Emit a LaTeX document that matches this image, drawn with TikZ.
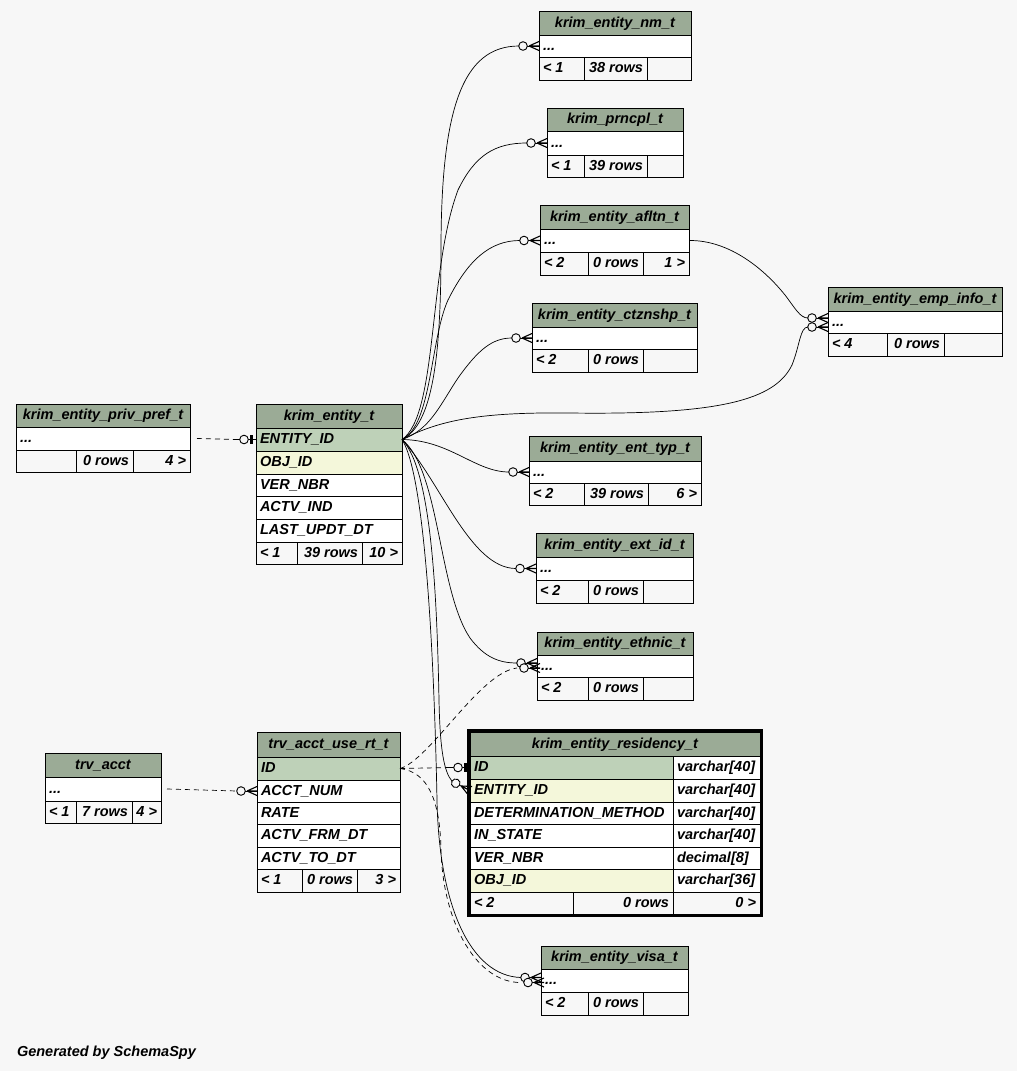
\documentclass[tikz,border=0pt]{standalone}
\usepackage{fontspec}
\setmainfont{Liberation Sans}
\definecolor{bg}{HTML}{F7F7F7}
\definecolor{hdr}{HTML}{9BAB96}
\definecolor{pk}{HTML}{BED1B8}
\definecolor{fk}{HTML}{F4F7DA}
\newcommand\tabfont{\fontsize{14.5}{17}\selectfont\bfseries\itshape}
\tikzset{
  cellbox/.style={draw=black, line width=1pt, inner sep=0pt, outer sep=0pt},
  txt/.style={inner sep=0pt, outer sep=0pt, text height=10.5pt, text depth=2.5pt, font=\tabfont},
  conn/.style={draw=black, line width=0.7pt},
  dashconn/.style={conn, dash pattern=on 5pt off 4pt},
  crowo/.pic={
    \draw[conn] (-20,0) -- (0,0);
    \draw[line width=1.1pt] (-10,0) -- (0,-4.5) (-10,0) -- (0,4.5) (-10,0) -- (0,0);
    \draw[line width=0.9pt, fill=bg] (-16,0) circle[radius=4.3pt];
  },
  teeo/.pic={
    \draw[conn] (-20,0) -- (0,0);
    \draw[line width=0.9pt, fill=bg] (-12,0) circle[radius=4.3pt];
    \draw[line width=2.5pt] (-4.5,-4.5) -- (-4.5,4.5);
  }
}
\newcommand\cellL[7]{\node[cellbox,fill=#6,minimum width=#4pt-#2pt,minimum height=#5pt-#3pt,anchor=north west] (#1) at (#2,#3) {};
  \node[txt,anchor=west] (#1t) at ([xshift=4pt]#1.west) {#7};}
\newcommand\cellR[7]{\node[cellbox,fill=#6,minimum width=#4pt-#2pt,minimum height=#5pt-#3pt,anchor=north west] (#1) at (#2,#3) {};
  \node[txt,anchor=east] (#1t) at ([xshift=-4pt]#1.east) {#7};}
\newcommand\cellC[7]{\node[cellbox,fill=#6,minimum width=#4pt-#2pt,minimum height=#5pt-#3pt,anchor=north west] (#1) at (#2,#3) {};
  \node[txt,anchor=center] (#1t) at (#1.center) {#7};}
\begin{document}
\begin{tikzpicture}[x=1pt,y=-1pt]
\useasboundingbox (0,0) rectangle (1017,1071);
\fill[bg] (0,0) rectangle (1017,1071);

% ---------- tables ----------
% krim_entity_nm_t
\cellC{nm-h}{539}{11}{691}{35}{hdr}{krim\_entity\_nm\_t}
\cellL{nm-r}{539}{35}{691}{57}{white}{...}
\cellL{nm-f1}{539}{57}{584}{80}{bg}{< 1}
\cellR{nm-f2}{584}{57}{647}{80}{bg}{38 rows}
\cellR{nm-f3}{647}{57}{691}{80}{bg}{}
% krim_prncpl_t
\cellC{pr-h}{547}{108}{683}{131}{hdr}{krim\_prncpl\_t}
\cellL{pr-r}{547}{131}{683}{155}{white}{...}
\cellL{pr-f1}{547}{155}{584}{177}{bg}{< 1}
\cellR{pr-f2}{584}{155}{647}{177}{bg}{39 rows}
\cellR{pr-f3}{647}{155}{683}{177}{bg}{}
% krim_entity_afltn_t
\cellC{af-h}{540}{205}{689}{229}{hdr}{krim\_entity\_afltn\_t}
\cellL{af-r}{540}{229}{689}{252}{white}{...}
\cellL{af-f1}{540}{252}{588}{275}{bg}{< 2}
\cellR{af-f2}{588}{252}{643}{275}{bg}{0 rows}
\cellR{af-f3}{643}{252}{689}{275}{bg}{1 >}
% krim_entity_ctznshp_t
\cellC{ct-h}{532}{303}{697}{327}{hdr}{krim\_entity\_ctznshp\_t}
\cellL{ct-r}{532}{327}{697}{349}{white}{...}
\cellL{ct-f1}{532}{349}{588}{372}{bg}{< 2}
\cellR{ct-f2}{588}{349}{643}{372}{bg}{0 rows}
\cellR{ct-f3}{643}{349}{697}{372}{bg}{}
% krim_entity_emp_info_t
\cellC{emp-h}{828}{287}{1002}{311}{hdr}{krim\_entity\_emp\_info\_t}
\cellL{emp-r}{828}{311}{1002}{333}{white}{...}
\cellL{emp-f1}{828}{333}{887}{356}{bg}{< 4}
\cellR{emp-f2}{887}{333}{944}{356}{bg}{0 rows}
\cellR{emp-f3}{944}{333}{1002}{356}{bg}{}
% krim_entity_priv_pref_t
\cellC{pp-h}{16}{404}{190}{427}{hdr}{krim\_entity\_priv\_pref\_t}
\cellL{pp-r}{16}{427}{190}{450}{white}{...}
\cellL{pp-f1}{16}{450}{76}{472}{bg}{}
\cellR{pp-f2}{76}{450}{133}{472}{bg}{0 rows}
\cellR{pp-f3}{133}{450}{190}{472}{bg}{4 >}
% krim_entity_t
\cellC{ent-h}{256}{404}{402}{428}{hdr}{krim\_entity\_t}
\cellL{ent-eid}{256}{428}{402}{451}{pk}{ENTITY\_ID}
\cellL{ent-obj}{256}{451}{402}{474}{fk}{OBJ\_ID}
\cellL{ent-ver}{256}{474}{402}{496}{white}{VER\_NBR}
\cellL{ent-act}{256}{496}{402}{519}{white}{ACTV\_IND}
\cellL{ent-lud}{256}{519}{402}{542}{white}{LAST\_UPDT\_DT}
\cellL{ent-f1}{256}{542}{297}{564}{bg}{< 1}
\cellR{ent-f2}{297}{542}{362}{564}{bg}{39 rows}
\cellR{ent-f3}{362}{542}{402}{564}{bg}{10 >}
% krim_entity_ent_typ_t
\cellC{et-h}{529}{436}{701}{461}{hdr}{krim\_entity\_ent\_typ\_t}
\cellL{et-r}{529}{461}{701}{483}{white}{...}
\cellL{et-f1}{529}{483}{584}{505}{bg}{< 2}
\cellR{et-f2}{584}{483}{648}{505}{bg}{39 rows}
\cellR{et-f3}{648}{483}{701}{505}{bg}{6 >}
% krim_entity_ext_id_t
\cellC{ex-h}{536}{533}{693}{557}{hdr}{krim\_entity\_ext\_id\_t}
\cellL{ex-r}{536}{557}{693}{580}{white}{...}
\cellL{ex-f1}{536}{580}{588}{603}{bg}{< 2}
\cellR{ex-f2}{588}{580}{643}{603}{bg}{0 rows}
\cellR{ex-f3}{643}{580}{693}{603}{bg}{}
% krim_entity_ethnic_t
\cellC{eth-h}{537}{632}{693}{655}{hdr}{krim\_entity\_ethnic\_t}
\cellL{eth-r}{537}{655}{693}{677}{white}{...}
\cellL{eth-f1}{537}{677}{588}{700}{bg}{< 2}
\cellR{eth-f2}{588}{677}{643}{700}{bg}{0 rows}
\cellR{eth-f3}{643}{677}{693}{700}{bg}{}
% krim_entity_residency_t
\cellC{res-h}{470}{732}{760}{756}{hdr}{krim\_entity\_residency\_t}
\cellL{res-id}{470}{756}{673}{779}{pk}{ID}
\cellL{res-idt}{673}{756}{760}{779}{white}{varchar[40]}
\cellL{res-eid}{470}{779}{673}{802}{fk}{ENTITY\_ID}
\cellL{res-eidt}{673}{779}{760}{802}{white}{varchar[40]}
\cellL{res-det}{470}{802}{673}{824}{white}{DETERMINATION\_METHOD}
\cellL{res-dett}{673}{802}{760}{824}{white}{varchar[40]}
\cellL{res-ins}{470}{824}{673}{847}{white}{IN\_STATE}
\cellL{res-inst}{673}{824}{760}{847}{white}{varchar[40]}
\cellL{res-ver}{470}{847}{673}{869}{white}{VER\_NBR}
\cellL{res-vert}{673}{847}{760}{869}{white}{decimal[8]}
\cellL{res-obj}{470}{869}{673}{892}{fk}{OBJ\_ID}
\cellL{res-objt}{673}{869}{760}{892}{white}{varchar[36]}
\cellL{res-f1}{470}{892}{573}{914}{bg}{< 2}
\cellR{res-f2}{573}{892}{673}{914}{bg}{0 rows}
\cellR{res-f3}{673}{892}{760}{914}{bg}{0 >}
\node[draw=black, line width=3pt, inner sep=0pt, outer sep=0pt, minimum width=293pt, minimum height=185pt, anchor=north west] (res-frame) at (468.5,730.5) {};
% trv_acct
\cellC{ta-h}{45}{753}{161}{777}{hdr}{trv\_acct}
\cellL{ta-r}{45}{777}{161}{801}{white}{...}
\cellL{ta-f1}{45}{801}{76}{823}{bg}{< 1}
\cellR{ta-f2}{76}{801}{132}{823}{bg}{7 rows}
\cellR{ta-f3}{132}{801}{161}{823}{bg}{4 >}
% trv_acct_use_rt_t
\cellC{tu-h}{257}{732}{400}{757}{hdr}{trv\_acct\_use\_rt\_t}
\cellL{tu-id}{257}{757}{400}{780}{pk}{ID}
\cellL{tu-acct}{257}{780}{400}{802}{white}{ACCT\_NUM}
\cellL{tu-rate}{257}{802}{400}{824}{white}{RATE}
\cellL{tu-frm}{257}{824}{400}{847}{white}{ACTV\_FRM\_DT}
\cellL{tu-to}{257}{847}{400}{869}{white}{ACTV\_TO\_DT}
\cellL{tu-f1}{257}{869}{302}{892}{bg}{< 1}
\cellR{tu-f2}{302}{869}{357}{892}{bg}{0 rows}
\cellR{tu-f3}{357}{869}{400}{892}{bg}{3 >}
% krim_entity_visa_t
\cellC{vi-h}{541}{946}{688}{969}{hdr}{krim\_entity\_visa\_t}
\cellL{vi-r}{541}{969}{688}{992}{white}{...}
\cellL{vi-f1}{541}{992}{588}{1015}{bg}{< 2}
\cellR{vi-f2}{588}{992}{643}{1015}{bg}{0 rows}
\cellR{vi-f3}{643}{992}{688}{1015}{bg}{}

% ---------- connectors ----------
\draw[conn] (ent-eid.east) .. controls (432,425) and (441,360) .. (441,250)
  .. controls (441,110) and (462,46) .. ([xshift=-20pt]nm-r.west);
\draw[conn] (ent-eid.east) .. controls (438,415) and (428,270) .. (458,190)
  .. controls (475,155) and (495,143) .. ([xshift=-20pt]pr-r.west);
\draw[conn] (ent-eid.east) .. controls (432,425) and (430,340) .. (448,300)
  .. controls (468,260) and (490,240.5) .. ([xshift=-20pt]af-r.west);
\draw[conn] (ent-eid.east) .. controls (430,430) and (440,405) .. (458,378)
  .. controls (478,350) and (492,338) .. ([xshift=-20pt]ct-r.west);
\draw[conn] (ent-eid.east) .. controls (440,420) and (480,412) .. (570,413)
  .. controls (720,415) and (775,400) .. (792,365)
  .. controls (800,345) and (800,327) .. ([xshift=-20pt,yshift=-5pt]emp-r.west);
\draw[conn] (af-r.east) .. controls (730,240) and (765,270) .. (785,295)
  .. controls (795,308) and (800,318) .. ([xshift=-20pt,yshift=4pt]emp-r.west);
\draw[conn] (ent-eid.east) .. controls (450,440) and (475,472) .. ([xshift=-20pt]et-r.west);
\draw[conn] (ent-eid.east) .. controls (440,480) and (470,568.5) .. ([xshift=-20pt]ex-r.west);
\draw[conn] (ent-eid.east) .. controls (440,470) and (438,590) .. (470,638)
  .. controls (485,658) and (500,663) .. ([xshift=-20pt,yshift=3pt]eth-r.west);
\draw[dashconn] (tu-id.east) .. controls (430,760) and (480,672) .. ([xshift=-20pt,yshift=-2pt]eth-r.west);
\draw[conn] (ent-eid.east) .. controls (432,470) and (437,600) .. (439,700)
  .. controls (440,750) and (444,772) .. ([shift={(-17.8pt,9.1pt)}]res-eid.west);
\draw[conn] (ent-eid.east) .. controls (428,480) and (435,700) .. (437,800)
  .. controls (439,905) and (470,976) .. ([xshift=-20pt,yshift=3pt]vi-r.west);
\draw[dashconn] (tu-id.east) .. controls (428,772) and (440,800) .. (441,850)
  .. controls (443,925) and (478,983) .. ([xshift=-20pt,yshift=-2pt]vi-r.west);
\draw[dashconn] (tu-id.east) -- ([xshift=-20pt]res-id.west);
\draw[dashconn] ([xshift=7pt]pp-r.east) -- ([xshift=-20pt]ent-eid.west);
\draw[dashconn] ([xshift=6pt]ta-r.east) -- ([xshift=-20pt]tu-acct.west);

% ---------- end markers ----------
\pic at (nm-r.west) {crowo};
\pic at (pr-r.west) {crowo};
\pic at (af-r.west) {crowo};
\pic at (ct-r.west) {crowo};
\pic at ([yshift=4pt]emp-r.west) {crowo};
\pic at ([yshift=-5pt]emp-r.west) {crowo};
\pic at (et-r.west) {crowo};
\pic at (ex-r.west) {crowo};
\pic at ([yshift=3pt]eth-r.west) {crowo};
\pic at ([xshift=3pt,yshift=-2pt]eth-r.west) {crowo};
\pic[rotate=-27] at (res-eid.west) {crowo};
\pic at ([yshift=3pt]vi-r.west) {crowo};
\pic at ([xshift=3pt,yshift=-2pt]vi-r.west) {crowo};
\pic at (tu-acct.west) {crowo};
\pic at (res-id.west) {teeo};
\pic at (ent-eid.west) {teeo};

\node[txt, anchor=base west] (gen) at (17,1056) {Generated by SchemaSpy};
\end{tikzpicture}
\end{document}
